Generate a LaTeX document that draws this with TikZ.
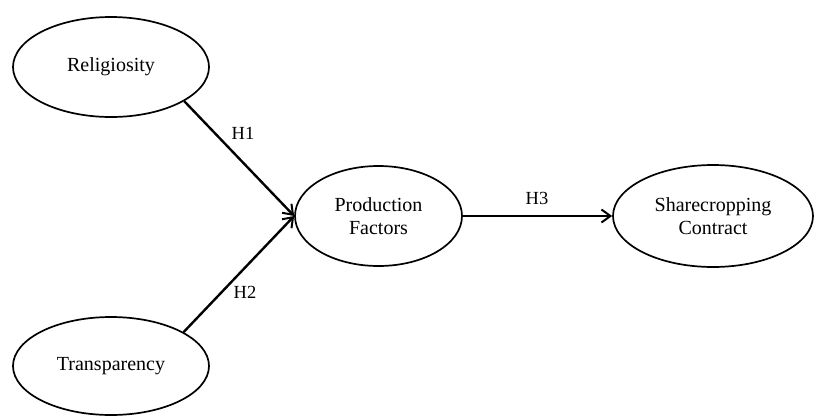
\documentclass[tikz,border=0pt]{standalone}
\usepackage{fontspec}
\setmainfont{Liberation Serif}
\usetikzlibrary{shapes.geometric,arrows.meta}
\begin{document}
\begin{tikzpicture}[x=1pt,y=-1pt,
  construct/.style={draw, ellipse, line width=1.7pt, inner sep=0pt, align=center,
    font=\fontsize{20}{23}\selectfont},
  path/.style={line width=2.4pt, -{Straight Barb[length=9pt,width=13pt,line width=2pt]}},
  hlabel/.style={font=\fontsize{18.5}{20}\selectfont}]
\useasboundingbox (0,0) rectangle (814,416);
\node[construct, minimum width=196pt, minimum height=100pt] (rel) at (111,67) {Religiosity};
\node[construct, minimum width=196pt, minimum height=98pt] (tra) at (111,366) {Transparency};
\node[construct, minimum width=167pt, minimum height=100pt] (pro) at (378.5,216) {Production\\Factors};
\node[construct, minimum width=200pt, minimum height=102pt] (sha) at (713,216) {Sharecropping\\Contract};
\draw[path] (rel.-25) -- (pro.west);
\draw[path] (tra.25) -- (pro.west);
\draw[path] (pro.east) -- (sha.west);
\node[hlabel] (h1) at (243,133) {H1};
\node[hlabel] (h2) at (245,292) {H2};
\node[hlabel] (h3) at (537,198) {H3};
\end{tikzpicture}
\end{document}
